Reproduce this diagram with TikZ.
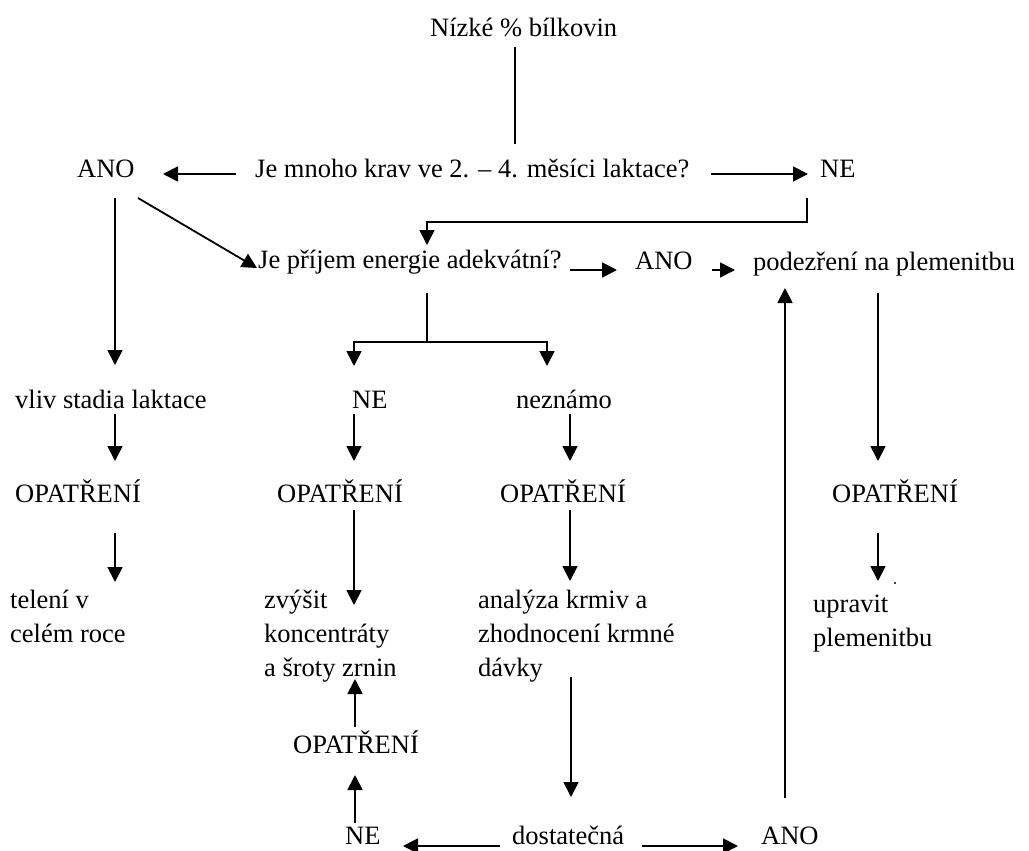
\documentclass[tikz,border=0pt]{standalone}
\usepackage{fontspec}
\setmainfont{Liberation Serif}
\usetikzlibrary{arrows.meta,calc}
\begin{document}
\begin{tikzpicture}[x=1pt,y=-1pt,
  lbl/.style={anchor=base west,inner sep=0pt,font=\fontsize{26.5}{34}\selectfont},
  con/.style={line width=1.8pt},
  arr/.style={con,-{Triangle[length=15pt,width=15pt]}}]
\useasboundingbox[fill=white] (0,0) rectangle (1029,851);
% nodes
\node[lbl] (n0)   at (430,37)  {Nízké \% bílkovin};
\node[lbl] (q1)   at (255,177) {Je mnoho krav ve 2. – 4. měsíci laktace?};
\node[lbl] (ano1) at (77,177)  {ANO};
\node[lbl] (ne1)  at (820,177) {NE};
\node[lbl] (q2)   at (258,268) {Je příjem energie adekvátní?};
\node[lbl] (ano2) at (635,269) {ANO};
\node[lbl] (pod)  at (753,270) {podezření na plemenitbu};
\node[lbl] (vliv) at (15,408)  {vliv stadia laktace};
\node[lbl] (ne2)  at (352,408) {NE};
\node[lbl] (nez)  at (516,408) {neznámo};
\node[lbl] (op1)  at (15,502)  {OPATŘENÍ};
\node[lbl] (op2)  at (277,502) {OPATŘENÍ};
\node[lbl] (op3)  at (500,502) {OPATŘENÍ};
\node[lbl] (op4)  at (832,502) {OPATŘENÍ};
\node[lbl] (tel)  at (10,608)  {\begin{tabular}[t]{@{}l@{}}telení v\\celém roce\end{tabular}};
\node[lbl] (zvy)  at (264,608) {\begin{tabular}[t]{@{}l@{}}zvýšit\\koncentráty\\a šroty zrnin\end{tabular}};
\node[lbl] (ana)  at (478,608) {\begin{tabular}[t]{@{}l@{}}analýza krmiv a\\zhodnocení krmné\\dávky\end{tabular}};
\node[lbl] (upr)  at (813,612) {\begin{tabular}[t]{@{}l@{}}upravit\\plemenitbu\end{tabular}};
\node[lbl] (op5)  at (293,753) {OPATŘENÍ};
\node[lbl] (ne3)  at (345,844) {NE};
\node[lbl] (dos)  at (512,844) {dostatečná};
\node[lbl] (ano3) at (761,844) {ANO};
% connectors
\draw[con] ($(n0.base west)+(85,10)$) -- ($(q1.base west)+(260,-33)$);
\draw[arr] ($(q1.base west)+(-19,-3)$) -- ($(ano1.base west)+(86,-3)$);
\draw[arr] ($(q1.base west)+(456,-3)$) -- ($(ne1.base west)+(-12,-3)$);
\draw[arr] ($(ne1.base west)+(-13,21)$) -- ++(0,24) -| ($(q2.base west)+(169,-23)$);
\draw[arr] ($(ano1.base west)+(61,21)$) -- ($(q2.base west)+(-1,0)$);
\draw[arr] ($(ano1.base west)+(38,21)$) -- ($(vliv.base west)+(100,-43)$);
\draw[arr] ($(q2.base west)+(312,2)$) -- ($(ano2.base west)+(-18,1)$);
\draw[arr] ($(ano2.base west)+(77,1)$) -- ($(pod.base west)+(-18,0)$);
\draw[con] ($(q2.base west)+(169,25)$) -- ++(0,49) coordinate (split);
\draw[arr] (split) -| ($(ne2.base west)+(2,-42)$);
\draw[arr] (split) -| ($(nez.base west)+(31,-42)$);
\draw[arr] ($(vliv.base west)+(100,6)$) -- ($(op1.base west)+(100,-41)$);
\draw[arr] ($(ne2.base west)+(2,6)$) -- ($(op2.base west)+(77,-41)$);
\draw[arr] ($(nez.base west)+(54,6)$) -- ($(op3.base west)+(70,-41)$);
\draw[arr] ($(pod.base west)+(125,23)$) -- ($(op4.base west)+(46,-41)$);
\draw[arr] ($(op1.base west)+(100,31)$) -- ($(tel.base west)+(105,-26)$);
\draw[arr] ($(op2.base west)+(77,8)$) -- ($(zvy.base west)+(90,-3)$);
\draw[arr] ($(op3.base west)+(70,8)$) -- ($(ana.base west)+(92,-27)$);
\draw[arr] ($(op4.base west)+(46,31)$) -- ($(upr.base west)+(65,-31)$);
\draw[arr] ($(op5.base west)+(62,-26)$) -- ($(zvy.base west)+(91,71)$);
\draw[arr] ($(ne3.base west)+(10,-21)$) -- ($(op5.base west)+(62,22)$);
\draw[arr] ($(dos.base west)+(-12,2)$) -- ($(ne3.base west)+(58,2)$);
\draw[arr] ($(dos.base west)+(130,2)$) -- ($(ano3.base west)+(-23,2)$);
\draw[arr] ($(ana.base west)+(93,69)$) -- ($(dos.base west)+(59,-47)$);
\draw[arr] ($(ano3.base west)+(24,-46)$) -- ($(pod.base west)+(32,18)$);
\fill ($(upr.base west)+(82,-29)$) circle (1.2);
\end{tikzpicture}
\end{document}
